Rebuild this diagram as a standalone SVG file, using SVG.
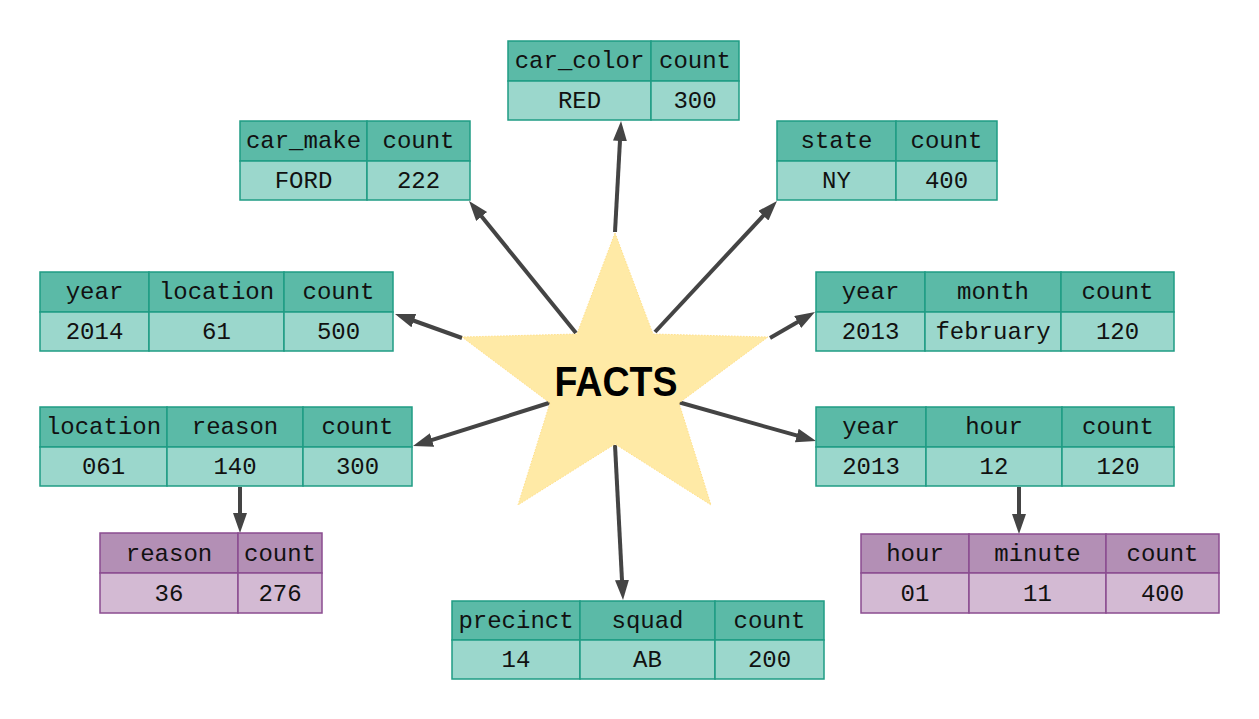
<svg xmlns="http://www.w3.org/2000/svg" width="1259" height="719" viewBox="0 0 1259 719">
<style>
.h{fill:#5bbaa7;stroke:#1f9c84;stroke-width:1.5}
.d{fill:#9bd7cc;stroke:#1f9c84;stroke-width:1.5}
.ph{fill:#b38fb5;stroke:#8b4c90;stroke-width:1.5}
.pd{fill:#d3bad3;stroke:#8b4c90;stroke-width:1.5}
text{font-family:"Liberation Mono","DejaVu Sans Mono",monospace;font-size:24px;fill:#111;text-anchor:middle}
.c line{stroke:#444;stroke-width:4;marker-end:url(#ah)}
.facts{font-family:"Liberation Sans",Arial,sans-serif;font-weight:bold;font-size:42px;fill:#000}
</style>
<defs>
<marker id="ah" markerUnits="userSpaceOnUse" markerWidth="22" markerHeight="16" refX="8" refY="7" orient="auto" viewBox="0 0 22 16">
<path d="M0,0 L20,7 L0,14 z" fill="#444"/>
</marker>
</defs>
<rect width="1259" height="719" fill="#fff"/>
<g id="connectors" class="c">
<line x1="615" y1="232" x2="620.4" y2="133"/>
<line x1="576" y1="333" x2="476.6" y2="210.3"/>
<line x1="655" y1="332" x2="768.8" y2="209.8"/>
<line x1="462" y1="338" x2="406.3" y2="318"/>
<line x1="770" y1="338" x2="804.6" y2="318"/>
<line x1="552" y1="402" x2="424.4" y2="442.4"/>
<line x1="678" y1="402" x2="804.5" y2="437.7"/>
<line x1="615" y1="445" x2="622.4" y2="588"/>
<line x1="240" y1="487" x2="240" y2="521"/>
<line x1="1019" y1="487" x2="1019" y2="522"/>
</g>
<g id="facts">
<polygon points="615,233 653,334 768,337 679,403 711,505 615,444 518,505 550,403 462,337 577,334" fill="#ffeaa6" stroke="#ffe08a" stroke-width="1" stroke-dasharray="1.5,1.5"/>
<text x="616" y="396" class="facts" textLength="123" lengthAdjust="spacingAndGlyphs">FACTS</text>
</g>
<g id="t-car-color">
<rect class="h" x="508" y="41" width="143" height="40"/><rect class="h" x="651" y="41" width="88" height="40"/>
<rect class="d" x="508" y="81" width="143" height="39"/><rect class="d" x="651" y="81" width="88" height="39"/>
<text x="579.5" y="68">car_color</text><text x="695" y="68">count</text>
<text x="579.5" y="108">RED</text><text x="695" y="108">300</text>
</g>
<g id="t-car-make">
<rect class="h" x="240" y="121" width="127" height="40"/><rect class="h" x="367" y="121" width="103" height="40"/>
<rect class="d" x="240" y="161" width="127" height="39"/><rect class="d" x="367" y="161" width="103" height="39"/>
<text x="303.5" y="148">car_make</text><text x="418.5" y="148">count</text>
<text x="303.5" y="188">FORD</text><text x="418.5" y="188">222</text>
</g>
<g id="t-state">
<rect class="h" x="777" y="121" width="119" height="40"/><rect class="h" x="896" y="121" width="101" height="40"/>
<rect class="d" x="777" y="161" width="119" height="39"/><rect class="d" x="896" y="161" width="101" height="39"/>
<text x="836.5" y="148">state</text><text x="946.5" y="148">count</text>
<text x="836.5" y="188">NY</text><text x="946.5" y="188">400</text>
</g>
<g id="t-year-location">
<rect class="h" x="40" y="272" width="109" height="40"/><rect class="h" x="149" y="272" width="135" height="40"/><rect class="h" x="284" y="272" width="109" height="40"/>
<rect class="d" x="40" y="312" width="109" height="39"/><rect class="d" x="149" y="312" width="135" height="39"/><rect class="d" x="284" y="312" width="109" height="39"/>
<text x="94.5" y="299">year</text><text x="216.5" y="299">location</text><text x="338.5" y="299">count</text>
<text x="94.5" y="339">2014</text><text x="216.5" y="339">61</text><text x="338.5" y="339">500</text>
</g>
<g id="t-year-month">
<rect class="h" x="816" y="272" width="109" height="40"/><rect class="h" x="925" y="272" width="136" height="40"/><rect class="h" x="1061" y="272" width="113" height="40"/>
<rect class="d" x="816" y="312" width="109" height="39"/><rect class="d" x="925" y="312" width="136" height="39"/><rect class="d" x="1061" y="312" width="113" height="39"/>
<text x="870.5" y="299">year</text><text x="993" y="299">month</text><text x="1117.5" y="299">count</text>
<text x="870.5" y="339">2013</text><text x="993" y="339">february</text><text x="1117.5" y="339">120</text>
</g>
<g id="t-location-reason">
<rect class="h" x="40" y="407" width="127" height="40"/><rect class="h" x="167" y="407" width="136" height="40"/><rect class="h" x="303" y="407" width="109" height="40"/>
<rect class="d" x="40" y="447" width="127" height="39"/><rect class="d" x="167" y="447" width="136" height="39"/><rect class="d" x="303" y="447" width="109" height="39"/>
<text x="103.5" y="434">location</text><text x="235" y="434">reason</text><text x="357.5" y="434">count</text>
<text x="103.5" y="474">061</text><text x="235" y="474">140</text><text x="357.5" y="474">300</text>
</g>
<g id="t-year-hour">
<rect class="h" x="816" y="407" width="110" height="40"/><rect class="h" x="926" y="407" width="136" height="40"/><rect class="h" x="1062" y="407" width="112" height="40"/>
<rect class="d" x="816" y="447" width="110" height="39"/><rect class="d" x="926" y="447" width="136" height="39"/><rect class="d" x="1062" y="447" width="112" height="39"/>
<text x="871" y="434">year</text><text x="994" y="434">hour</text><text x="1118" y="434">count</text>
<text x="871" y="474">2013</text><text x="994" y="474">12</text><text x="1118" y="474">120</text>
</g>
<g id="t-reason">
<rect class="ph" x="100" y="533" width="138" height="40"/><rect class="ph" x="238" y="533" width="84" height="40"/>
<rect class="pd" x="100" y="573" width="138" height="40"/><rect class="pd" x="238" y="573" width="84" height="40"/>
<text x="169" y="561">reason</text><text x="280" y="561">count</text>
<text x="169" y="601">36</text><text x="280" y="601">276</text>
</g>
<g id="t-hour-minute">
<rect class="ph" x="861" y="534" width="108" height="39"/><rect class="ph" x="969" y="534" width="137" height="39"/><rect class="ph" x="1106" y="534" width="113" height="39"/>
<rect class="pd" x="861" y="573" width="108" height="40"/><rect class="pd" x="969" y="573" width="137" height="40"/><rect class="pd" x="1106" y="573" width="113" height="40"/>
<text x="915" y="561">hour</text><text x="1037.5" y="561">minute</text><text x="1162.5" y="561">count</text>
<text x="915" y="601">01</text><text x="1037.5" y="601">11</text><text x="1162.5" y="601">400</text>
</g>
<g id="t-precinct">
<rect class="h" x="452" y="601" width="128" height="39"/><rect class="h" x="580" y="601" width="135" height="39"/><rect class="h" x="715" y="601" width="109" height="39"/>
<rect class="d" x="452" y="640" width="128" height="39"/><rect class="d" x="580" y="640" width="135" height="39"/><rect class="d" x="715" y="640" width="109" height="39"/>
<text x="516" y="628">precinct</text><text x="647.5" y="628">squad</text><text x="769.5" y="628">count</text>
<text x="516" y="667">14</text><text x="647.5" y="667">AB</text><text x="769.5" y="667">200</text>
</g>
</svg>
